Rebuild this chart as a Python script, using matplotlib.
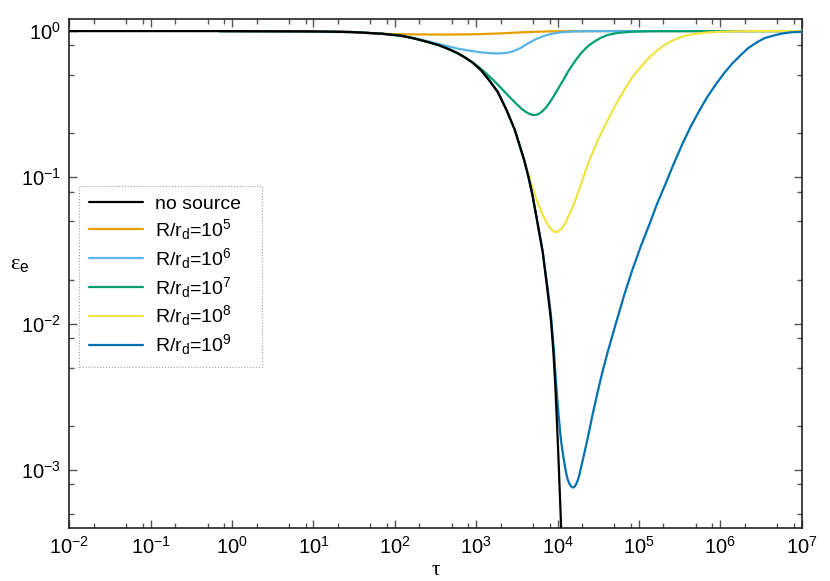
import math
import matplotlib
matplotlib.use("Agg")
import matplotlib.pyplot as plt
from matplotlib.ticker import FixedLocator, FuncFormatter, NullFormatter

plt.rcParams['font.family'] = ['Liberation Sans', 'DejaVu Sans']
plt.rcParams['mathtext.fontset'] = 'custom'
plt.rcParams['mathtext.rm'] = 'Liberation Sans'
plt.rcParams['mathtext.it'] = 'Liberation Sans:italic'
plt.rcParams['mathtext.bf'] = 'Liberation Sans:bold'

# ---- data ----
labels = ['no source', r'R/r$_\mathrm{d}$=10$^5$', r'R/r$_\mathrm{d}$=10$^6$',
          r'R/r$_\mathrm{d}$=10$^7$', r'R/r$_\mathrm{d}$=10$^8$', r'R/r$_\mathrm{d}$=10$^9$']
colors = ['#000000', '#E69F00', '#56B4E9', '#009E73', '#F0E442', '#0072B2']

xticks = [1e-2, 1e-1, 1e0, 1e1, 1e2, 1e3, 1e4, 1e5, 1e6, 1e7]
yticks = [1e-3, 1e-2, 1e-1, 1e0]

tau_nosrc = [0.01, 1, 10, 30, 69, 120, 175, 260, 350, 450, 580, 720, 900, 1150, 1450, 1845,
             2350, 2945, 3400, 3905, 4400, 4950, 5700, 6560, 7500, 8300, 8900, 9400, 9800,
             10200, 10600, 10900, 11050]
eps_nosrc = [1.0, 0.9995, 0.995, 0.985, 0.96, 0.93, 0.89, 0.84, 0.80, 0.757, 0.71, 0.663,
             0.61, 0.54, 0.46, 0.383, 0.29, 0.215, 0.167, 0.13, 0.10, 0.074, 0.048, 0.031,
             0.017, 0.0105, 0.0063, 0.0037, 0.0022, 0.0013, 0.00075, 0.0005, 0.0004]

tau_r5 = [0.7, 10, 30, 69, 100, 150, 250, 400, 600, 900, 1300, 2000, 3000, 4500, 7000,
          12000, 30000, 1e7]
eps_r5 = [1.0, 0.995, 0.985, 0.96, 0.953, 0.95, 0.948, 0.947, 0.948, 0.951, 0.956, 0.965,
          0.976, 0.986, 0.994, 0.998, 1.0, 1.0]

tau_r6 = [0.7, 10, 30, 69, 120, 175, 260, 350, 450, 600, 800, 1100, 1450, 1850, 2300, 2700,
          3100, 3560, 4100, 4900, 5600, 6400, 7400, 8800, 10600, 13000, 17000, 25000, 1e5,
          1e7]
eps_r6 = [1.0, 0.995, 0.985, 0.96, 0.93, 0.895, 0.85, 0.815, 0.787, 0.758, 0.737, 0.718,
          0.707, 0.703, 0.708, 0.722, 0.742, 0.77, 0.81, 0.855, 0.888, 0.915, 0.94, 0.962,
          0.978, 0.988, 0.995, 0.999, 1.0, 1.0]

tau_r7 = [0.7, 10, 30, 69, 120, 175, 260, 350, 450, 580, 720, 900, 1050, 1200, 1400, 1650,
          1950, 2300, 2700, 3150, 3600, 4050, 4500, 4950, 5400, 5900, 6500, 7200, 8000, 9000,
          10000, 11000, 12200, 13500, 15000, 16800, 19000, 22000, 25500, 29500, 34000, 41000,
          55000, 80000, 1.5e5, 1e7]
eps_r7 = [1.0, 0.995, 0.985, 0.96, 0.93, 0.89, 0.84, 0.80, 0.757, 0.71, 0.663, 0.612, 0.575,
          0.54, 0.50, 0.458, 0.417, 0.378, 0.345, 0.316, 0.295, 0.281, 0.272, 0.267, 0.267,
          0.272, 0.283, 0.3, 0.325, 0.36, 0.397, 0.435, 0.48, 0.53, 0.58, 0.635, 0.695, 0.76,
          0.815, 0.86, 0.9, 0.94, 0.972, 0.99, 1.0, 1.0]

tau_r8 = [0.7, 10, 30, 69, 120, 175, 260, 350, 450, 580, 720, 900, 1150, 1450, 1845, 2350,
          2945, 3400, 3905, 4400, 5180, 5800, 6400, 7000, 7700, 8500, 9350, 10200, 11200,
          12300, 13500, 15000, 16800, 19000, 22000, 25600, 32000, 41000, 52000, 65500, 82000,
          105000, 130000, 168000, 210000, 268000, 340000, 430000, 550000, 690000, 1e6, 1.5e6,
          3e6, 1e7]
eps_r8 = [1.0, 0.995, 0.985, 0.96, 0.93, 0.89, 0.84, 0.80, 0.757, 0.71, 0.663, 0.61, 0.54,
          0.46, 0.383, 0.29, 0.215, 0.168, 0.131, 0.104, 0.078, 0.0655, 0.0575, 0.0515,
          0.0468, 0.0438, 0.0423, 0.0425, 0.0445, 0.048, 0.0535, 0.061, 0.0715, 0.087, 0.11,
          0.138, 0.185, 0.245, 0.315, 0.393, 0.48, 0.567, 0.65, 0.736, 0.81, 0.871, 0.915,
          0.946, 0.965, 0.978, 0.99, 0.997, 1.0, 1.0]

tau_r9 = [0.7, 10, 30, 69, 120, 175, 260, 350, 450, 580, 720, 900, 1150, 1450, 1845, 2350,
          2945, 3400, 3905, 4400, 4950, 5700, 6560, 7500, 8280, 9000, 9530, 10200, 11000,
          11800, 12600, 13300, 14000, 14700, 15300, 16000, 16800, 17600, 18400, 20500, 23300,
          27000, 30900, 35000, 41000, 52000, 65500, 83000, 105000, 135000, 168000, 215000,
          268000, 340000, 430000, 550000, 690000, 880000, 1.1e6, 1.4e6, 1.76e6, 2.2e6,
          2.82e6, 3.5e6, 4.5e6, 5.6e6, 7.2e6, 1e7]
eps_r9 = [1.0, 0.995, 0.985, 0.96, 0.93, 0.89, 0.84, 0.80, 0.757, 0.71, 0.663, 0.61, 0.54,
          0.46, 0.383, 0.29, 0.215, 0.167, 0.13, 0.10, 0.074, 0.048, 0.031, 0.018, 0.0115,
          0.0066, 0.0041, 0.0025, 0.0016, 0.00122, 0.00098, 0.00086, 0.0008, 0.000770,
          0.000757, 0.000762, 0.00079, 0.00084, 0.00091, 0.00118, 0.00162, 0.0024, 0.00336,
          0.0045, 0.0063, 0.0100, 0.0155, 0.0233, 0.0336, 0.048, 0.0664, 0.092, 0.124, 0.168,
          0.221, 0.285, 0.354, 0.432, 0.511, 0.60, 0.681, 0.765, 0.839, 0.895, 0.932, 0.96,
          0.98, 0.99]

taus = [tau_nosrc, tau_r5, tau_r6, tau_r7, tau_r8, tau_r9]
epss = [eps_nosrc, eps_r5, eps_r6, eps_r7, eps_r8, eps_r9]

fig = plt.figure(figsize=(8.3, 5.81), dpi=100)
ax = fig.add_axes([69.3/830, 53/581, (801.7-69.3)/830, (528-19)/581])

handles = []
for i, (t, e, c, lab) in enumerate(zip(taus, epss, colors, labels)):
    z = 10 if i == 0 else 3 + i * 0.1
    h, = ax.plot(t, e, color=c, lw=1.6, label=lab, zorder=z,
                 solid_joinstyle='round', solid_capstyle='round')
    handles.append(h)

ax.set_xscale('log')
ax.set_yscale('log')
ax.set_xlim(1e-2, 1e7)
ax.set_ylim(4.0e-4, 1.21)

fmt = FuncFormatter(lambda v, p: r'$\mathregular{10^{%d}}$' % round(math.log10(v)))
xminor = [m * d for d in xticks[:-1] for m in (2, 5, 8)]
yminor = [m * d for d in [1e-4] + yticks for m in (2, 5, 8) if 4e-4 <= m * d <= 1.21]
ax.xaxis.set_major_locator(FixedLocator(xticks))
ax.yaxis.set_major_locator(FixedLocator(yticks))
ax.xaxis.set_minor_locator(FixedLocator(xminor))
ax.yaxis.set_minor_locator(FixedLocator(yminor))
ax.xaxis.set_major_formatter(fmt)
ax.yaxis.set_major_formatter(fmt)
ax.xaxis.set_minor_formatter(NullFormatter())
ax.yaxis.set_minor_formatter(NullFormatter())
ax.tick_params(which='both', direction='in', top=True, right=True, color='#555555',
               labelsize=14.5, pad=6)
ax.tick_params(which='major', length=6, width=1)
ax.tick_params(which='minor', length=3.5, width=1)
for s in ax.spines.values():
    s.set_linewidth(1.2)
    s.set_color('#222222')

ax.set_xlabel('τ', family=['Liberation Serif', 'DejaVu Serif'], fontsize=15, labelpad=2)
fig.text(10/830, 1 - 266/581, r'ε$_\mathrm{e}$', fontsize=16, ha='left', va='center',
         family=['Liberation Serif', 'DejaVu Serif'])

leg = ax.legend(handles=handles, loc='upper left',
                bbox_to_anchor=(0.0132, 0.0, 0.25, 0.672), mode='expand',
                fontsize=14, frameon=True, fancybox=False, handlelength=2.8,
                handletextpad=0.6, labelspacing=0.2, borderpad=0.5, borderaxespad=0)
fr = leg.get_frame()
fr.set_edgecolor('#888888')
fr.set_linestyle(':')
fr.set_linewidth(0.8)

fig.savefig('out.png', dpi=100)
